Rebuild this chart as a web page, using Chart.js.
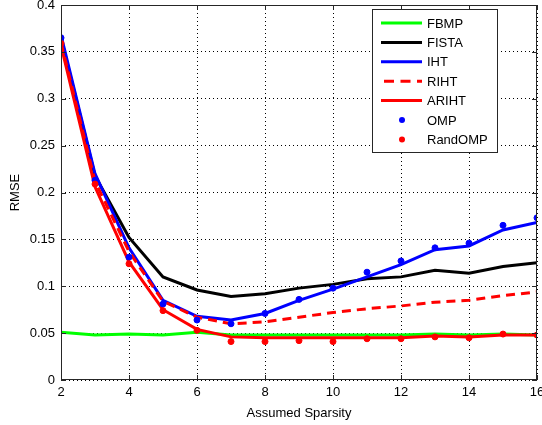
<!DOCTYPE html>
<html>
<head>
<meta charset="utf-8">
<script src="https://cdn.jsdelivr.net/npm/chart.js@4"></script>
<style>
  html, body { margin: 0; padding: 0; background: #fff; }
  #wrap { width: 542px; height: 425px; }
</style>
</head>
<body>
<div id="wrap"><canvas id="chart"></canvas></div>
<script>
const sparsity = [2, 3, 4, 5, 6, 7, 8, 9, 10, 11, 12, 13, 14, 15, 16];

const fbmp    = [0.051, 0.048, 0.049, 0.048, 0.051, 0.048, 0.048, 0.048, 0.048, 0.048, 0.048, 0.049, 0.048, 0.049, 0.048];
const fista   = [0.365, 0.218, 0.152, 0.110, 0.096, 0.089, 0.092, 0.098, 0.102, 0.108, 0.110, 0.117, 0.114, 0.121, 0.125];
const iht     = [0.368, 0.220, 0.141, 0.085, 0.068, 0.064, 0.071, 0.085, 0.097, 0.110, 0.123, 0.139, 0.143, 0.160, 0.168];
const riht    = [0.360, 0.212, 0.137, 0.084, 0.067, 0.060, 0.062, 0.067, 0.072, 0.076, 0.079, 0.083, 0.085, 0.090, 0.094];
const ariht   = [0.357, 0.206, 0.126, 0.075, 0.054, 0.046, 0.045, 0.045, 0.045, 0.045, 0.045, 0.047, 0.046, 0.048, 0.048];
const omp     = [0.365, 0.213, 0.131, 0.081, 0.064, 0.060, 0.071, 0.086, 0.098, 0.115, 0.127, 0.141, 0.146, 0.165, 0.173];
const randomp = [0.359, 0.209, 0.124, 0.074, 0.053, 0.041, 0.041, 0.042, 0.041, 0.044, 0.044, 0.046, 0.045, 0.049, 0.048];

const xTickLabels = ['2', '4', '6', '8', '10', '12', '14', '16'];
const yTickLabels = ['0', '0.05', '0.1', '0.15', '0.2', '0.25', '0.3', '0.35', '0.4'];

const FONT = '"Liberation Sans", Arial, sans-serif';

function pts(ys) {
    return sparsity.map((x, i) => ({ x: x, y: ys[i] }));
}

const series = [
    { label: 'FBMP', data: fbmp, color: '#00ff00', dash: [], line: true },
    { label: 'FISTA', data: fista, color: '#000000', dash: [], line: true },
    { label: 'IHT', data: iht, color: '#0000ff', dash: [], line: true },
    { label: 'RIHT', data: riht, color: '#ff0000', dash: [9, 6], line: true },
    { label: 'ARIHT', data: ariht, color: '#ff0000', dash: [], line: true },
    { label: 'OMP', data: omp, color: '#0000ff', dash: [], line: false },
    { label: 'RandOMP', data: randomp, color: '#ff0000', dash: [], line: false }
];

const datasets = series.map((s, i) => ({
    label: s.label,
    data: pts(s.data),
    borderColor: s.color,
    backgroundColor: s.color,
    borderWidth: 3,
    borderDash: s.dash,
    showLine: s.line,
    pointRadius: s.line ? 0 : 3,
    pointBorderWidth: 1,
    pointStyle: 'circle',
    tension: 0,
    order: series.length - i
}));

// MATLAB style box, inward ticks and legend
const matlabBox = {
    id: 'matlabBox',
    afterDraw(chart) {
        const ctx = chart.ctx;
        const a = chart.chartArea;
        const xs = chart.scales.x, ys = chart.scales.y;
        ctx.save();
        ctx.strokeStyle = '#262626';
        ctx.lineWidth = 1;
        ctx.setLineDash([]);
        ctx.strokeRect(a.left + 0.5, a.top + 0.5, a.right - a.left - 1, a.bottom - a.top - 1);
        ctx.beginPath();
        xs.ticks.forEach(t => {
            const px = Math.round(xs.getPixelForValue(t.value)) + 0.5;
            ctx.moveTo(px, a.bottom); ctx.lineTo(px, a.bottom - 5);
            ctx.moveTo(px, a.top); ctx.lineTo(px, a.top + 5);
        });
        ys.ticks.forEach(t => {
            const py = Math.round(ys.getPixelForValue(t.value)) + 0.5;
            ctx.moveTo(a.left, py); ctx.lineTo(a.left + 5, py);
            ctx.moveTo(a.right, py); ctx.lineTo(a.right - 5, py);
        });
        ctx.stroke();

        // legend
        const bx = a.right - 165, by = a.top + 4, bw = 125, bh = 143;
        ctx.fillStyle = '#fff';
        ctx.fillRect(bx, by, bw, bh);
        ctx.strokeStyle = '#262626';
        ctx.strokeRect(bx + 0.5, by + 0.5, bw, bh);
        ctx.font = '13px ' + FONT;
        ctx.textBaseline = 'middle';
        series.forEach((s, i) => {
            const ry = by + 14 + i * 19.4;
            if (s.line) {
                ctx.strokeStyle = s.color;
                ctx.lineWidth = 3;
                ctx.setLineDash(s.dash.length ? [10, 6.5] : []);
                ctx.beginPath();
                const x0 = s.dash.length ? bx + 12 : bx + 9;
                ctx.moveTo(x0, ry); ctx.lineTo(bx + 50, ry);
                ctx.stroke();
                ctx.setLineDash([]);
            } else {
                ctx.fillStyle = s.color;
                ctx.beginPath();
                ctx.arc(bx + 30, ry, 3, 0, Math.PI * 2);
                ctx.fill();
            }
            ctx.fillStyle = '#000';
            ctx.fillText(s.label, bx + 55, ry + 1);
        });
        ctx.restore();
    }
};

new Chart(document.getElementById('chart'), {
    type: 'line',
    data: { datasets: datasets },
    options: {
        responsive: true,
        maintainAspectRatio: false,
        animation: false,
        layout: { padding: { top: 4, right: 3, left: 0, bottom: 0 } },
        plugins: {
            legend: { display: false },
            tooltip: { enabled: false }
        },
        scales: {
            x: {
                type: 'linear',
                min: 2,
                max: 16,
                afterFit(scale) {
                    scale.height = 45;
                    scale.paddingLeft = 0;
                    scale.paddingRight = 0;
                },
                ticks: {
                    stepSize: 2,
                    color: '#000',
                    font: { family: FONT, size: 13 },
                    padding: 5,
                    callback: (v, i) => xTickLabels[i]
                },
                grid: { color: '#000', lineWidth: 1, drawTicks: false },
                border: { display: false, dash: [1, 3] },
                title: {
                    display: true,
                    text: 'Assumed Sparsity',
                    color: '#000',
                    font: { family: FONT, size: 13 },
                    padding: { top: 5 }
                }
            },
            y: {
                min: 0,
                max: 0.4,
                afterFit(scale) {
                    scale.width = 61;
                    scale.paddingTop = 0;
                    scale.paddingBottom = 0;
                },
                ticks: {
                    stepSize: 0.05,
                    color: '#000',
                    font: { family: FONT, size: 13 },
                    padding: 6,
                    callback: (v, i) => yTickLabels[i]
                },
                grid: { color: '#000', lineWidth: 1, drawTicks: false },
                border: { display: false, dash: [1, 3] },
                title: {
                    display: true,
                    text: 'RMSE',
                    color: '#000',
                    font: { family: FONT, size: 13 },
                    padding: { top: 8, bottom: 0 }
                }
            }
        }
    },
    plugins: [matlabBox]
});
</script>
</body>
</html>
